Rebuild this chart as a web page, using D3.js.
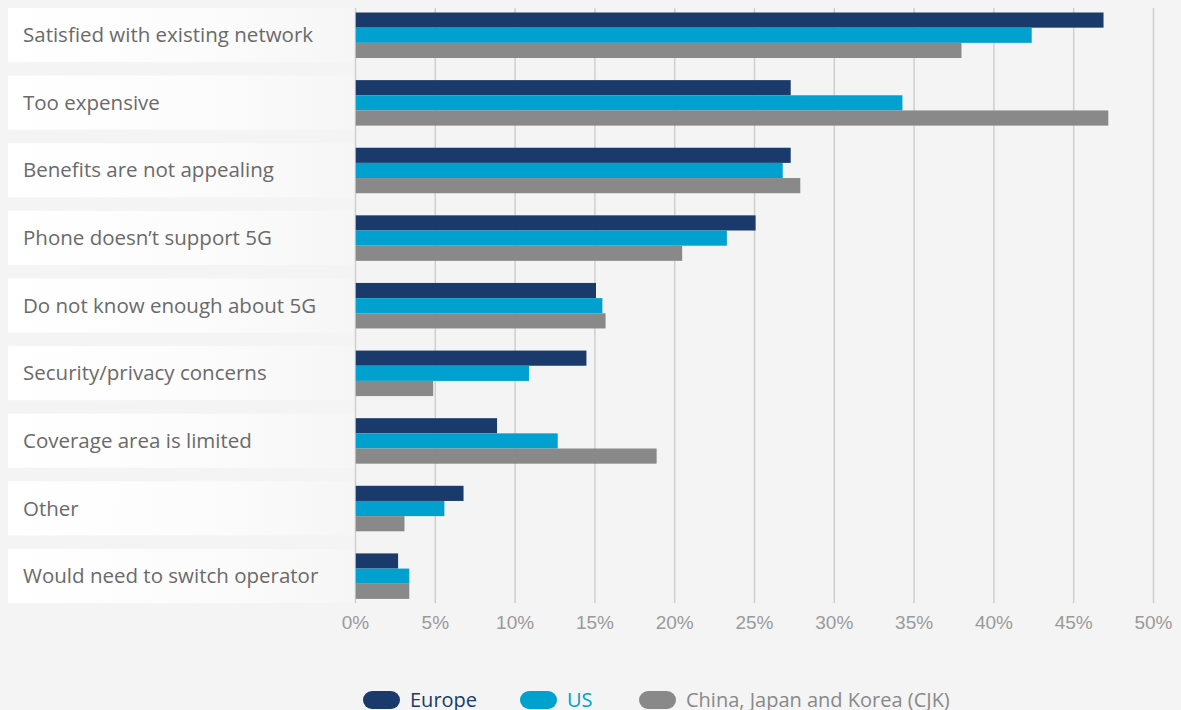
<!DOCTYPE html>
<html>
<head>
<meta charset="utf-8">
<script src="https://cdn.jsdelivr.net/npm/d3@7"></script>
<style>
  html, body { margin: 0; padding: 0; background: #f4f4f4; }
  svg { display: block; }
</style>
</head>
<body>
<div id="chart"></div>
<script>
// Reasons for not switching to 5G, share of respondents (%)
const categories = [
  'Satisfied with existing network',
  'Too expensive',
  'Benefits are not appealing',
  'Phone doesn\u2019t support 5G',
  'Do not know enough about 5G',
  'Security/privacy concerns',
  'Coverage area is limited',
  'Other',
  'Would need to switch operator'
];
const seriesNames = ['Europe', 'US', 'China, Japan and Korea (CJK)'];
const europe = [46.9, 27.3, 27.3, 25.1, 15.1, 14.5, 8.9, 6.8, 2.7];
const us = [42.4, 34.3, 26.8, 23.3, 15.5, 10.9, 12.7, 5.6, 3.4];
const cjk = [38.0, 47.2, 27.9, 20.5, 15.7, 4.9, 18.9, 3.1, 3.4];
const xTicks = [0, 5, 10, 15, 20, 25, 30, 35, 40, 45, 50];

const colors = ['#1a3a6b', '#00a0cf', '#898989'];
const values = [europe, us, cjk];

const W = 1181, H = 710;
const margin = { top: 8, left: 355, right: 28 };
const plotBottom = 603;

const svg = d3.select('#chart')
  .append('svg')
  .attr('width', W)
  .attr('height', H)
  .style('font-family', '"Open Sans", Lato, sans-serif');

// gradient for the label boxes
const grad = svg.append('defs').append('linearGradient').attr('id', 'lblGrad');
grad.append('stop').attr('offset', '0%').attr('stop-color', '#ffffff');
grad.append('stop').attr('offset', '55%').attr('stop-color', '#fcfcfc');
grad.append('stop').attr('offset', '100%').attr('stop-color', '#f6f6f6');

const x = d3.scaleLinear().domain([0, 50]).range([margin.left, margin.left + 798]);
const y = d3.scaleBand()
  .domain(categories)
  .range([margin.top, plotBottom])
  .paddingInner(0.2)
  .paddingOuter(0);

// label boxes
svg.append('g').selectAll('rect')
  .data(categories)
  .join('rect')
  .attr('x', 8)
  .attr('y', d => y(d))
  .attr('width', margin.left - 8)
  .attr('height', y.bandwidth())
  .attr('fill', 'url(#lblGrad)');

// gridlines
const grid = svg.append('g')
  .attr('transform', `translate(0,${plotBottom})`)
  .call(d3.axisBottom(x).tickValues(xTicks).tickSize(-(plotBottom - margin.top)).tickFormat(d => d + '%'));
grid.select('.domain').remove();
grid.selectAll('.tick line')
  .attr('stroke', '#cfcfcf')
  .attr('stroke-width', 1.5);
grid.selectAll('.tick text')
  .attr('y', 13)
  .attr('dy', '0.71em')
  .attr('fill', '#9a9a9a')
  .style('font-size', '19px');

// bars
const inner = d3.scaleBand()
  .domain(d3.range(seriesNames.length))
  .range([4.5, 4.5 + 45.5]);

const groups = svg.append('g').selectAll('g')
  .data(categories)
  .join('g')
  .attr('transform', d => `translate(0,${y(d)})`);

groups.selectAll('rect')
  .data((d, i) => values.map((s, k) => ({ k, v: s[i] })))
  .join('rect')
  .attr('x', x(0) + 0.75)
  .attr('y', d => inner(d.k))
  .attr('width', d => x(d.v) - x(0) - 0.75)
  .attr('height', inner.bandwidth())
  .attr('fill', d => colors[d.k]);

// category labels
svg.append('g').selectAll('text')
  .data(categories)
  .join('text')
  .attr('x', 23)
  .attr('y', d => y(d) + y.bandwidth() / 2)
  .attr('dy', '0.35em')
  .attr('fill', '#6a6a6a')
  .style('font-size', '20.5px')
  .text(d => d);

// legend
const legendX = [363, 520, 639];
const legend = svg.append('g').selectAll('g')
  .data(seriesNames)
  .join('g')
  .attr('transform', (d, i) => `translate(${legendX[i]},700)`);

legend.append('rect')
  .attr('x', 0)
  .attr('y', -9)
  .attr('width', 37)
  .attr('height', 18)
  .attr('rx', 9)
  .attr('fill', (d, i) => colors[i]);

legend.append('text')
  .attr('x', 47)
  .attr('y', 0)
  .attr('dy', '0.34em')
  .attr('fill', (d, i) => colors[i])
  .style('font-size', '20px')
  .text(d => d);
</script>
</body>
</html>
